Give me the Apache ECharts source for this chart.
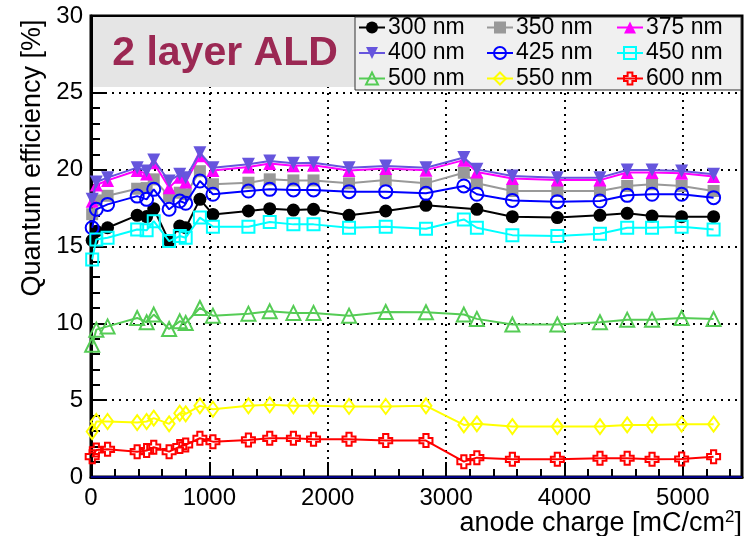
<!DOCTYPE html>
<html>
<head>
<meta charset="utf-8">
<script src="https://cdn.jsdelivr.net/npm/echarts@6/dist/echarts.min.js"></script>
<style>
html,body{margin:0;padding:0;background:#fff;}
#chart{width:745px;height:536px;}
</style>
</head>
<body>
<div id="chart"></div>
<script>
// anode charge [mC/cm2]
const charge = [10, 45, 140, 390, 470, 530, 660, 750, 800, 920, 1030, 1330, 1510, 1710, 1880, 2180, 2490, 2830, 3150, 3260, 3560, 3940, 4300, 4530, 4740, 4990, 5260];
const seriesNames = ['300 nm', '350 nm', '375 nm', '400 nm', '425 nm', '450 nm', '500 nm', '550 nm', '600 nm'];
const qe300 = [15.4, 16.0, 16.22, 17.03, 16.95, 17.46, 15.35, 16.33, 16.22, 18.07, 17.09, 17.31, 17.46, 17.37, 17.42, 17.03, 17.31, 17.68, null, 17.42, 16.94, 16.88, 17.03, 17.16, 16.98, 16.94, 16.94];
const qe350 = [17.1, 18.0, 18.3, 18.76, 18.8, 19.37, 18.28, 18.5, 18.4, 19.9, 19.05, 19.15, 19.37, 19.3, 19.3, 19.11, 19.33, 19.11, 19.8, 19.11, 18.61, 18.61, 18.61, 18.94, 19.05, 18.94, 18.61];
const qe375 = [17.95, 19.0, 19.3, 19.95, 19.72, 20.45, 18.83, 19.5, 19.2, 20.9, 19.95, 20.18, 20.4, 20.25, 20.28, 19.95, 20.08, 19.97, 20.62, 19.85, 19.42, 19.32, 19.32, 19.82, 19.82, 19.76, 19.55];
const qe400 = [18.07, 19.2, 19.48, 20.13, 19.91, 20.63, 19.26, 19.7, 19.48, 21.1, 20.13, 20.35, 20.57, 20.42, 20.45, 20.13, 20.24, 20.13, 20.79, 20.02, 19.59, 19.48, 19.48, 19.98, 19.98, 19.91, 19.7];
const qe425 = [16.22, 17.42, 17.74, 18.28, 18.07, 18.72, 17.42, 17.96, 17.81, 19.26, 18.4, 18.61, 18.72, 18.68, 18.68, 18.57, 18.57, 18.46, 18.94, 18.4, 18.0, 17.92, 17.96, 18.33, 18.4, 18.4, 18.18];
const qe450 = [14.15, 15.46, 15.57, 16.11, 16.05, 16.65, 15.35, 15.68, 15.57, 16.88, 16.29, 16.29, 16.59, 16.44, 16.44, 16.22, 16.29, 16.15, 16.76, 16.22, 15.74, 15.68, 15.83, 16.22, 16.22, 16.29, 16.11];
const qe500 = [8.61, 9.59, 9.8, 10.35, 10.07, 10.57, 9.63, 10.13, 10.02, 11.0, 10.5, 10.63, 10.78, 10.68, 10.68, 10.5, 10.74, 10.72, 10.57, 10.29, 9.92, 9.92, 10.07, 10.24, 10.24, 10.35, 10.29];
const qe550 = [2.96, 3.61, 3.61, 3.54, 3.61, 3.83, 3.46, 4.15, 4.11, 4.63, 4.41, 4.63, 4.7, 4.63, 4.63, 4.59, 4.59, 4.63, 3.39, 3.46, 3.28, 3.28, 3.28, 3.39, 3.39, 3.44, 3.44];
const qe600 = [1.32, 1.76, 1.8, 1.65, 1.72, 1.94, 1.65, 1.98, 2.09, 2.52, 2.3, 2.41, 2.52, 2.52, 2.46, 2.46, 2.37, 2.37, 1.0, 1.26, 1.15, 1.15, 1.22, 1.22, 1.15, 1.17, 1.32];
const xTicks = [0, 1000, 2000, 3000, 4000, 5000];
const yTicks = [0, 5, 10, 15, 20, 25, 30];

const allValues = [qe300, qe350, qe375, qe400, qe425, qe450, qe500, qe550, qe600];
const FONT = '"Liberation Sans", Arial, Helvetica, sans-serif';
const crossPath = 'path://M3,0H7V3H10V7H7V10H3V7H0V3H3Z';

const styles = [
  {color: '#000000', symbol: 'circle', size: 13, filled: true},
  {color: '#999999', symbol: 'rect', size: 12, filled: true},
  {color: '#ff00ff', symbol: 'triangle', size: 13, filled: true},
  {color: '#6655dd', symbol: 'triangle', size: 13, filled: true, rotate: 180},
  {color: '#0000ff', symbol: 'circle', size: 13, filled: false},
  {color: '#00ffff', symbol: 'rect', size: 12, filled: false},
  {color: '#55cc55', symbol: 'triangle', size: 14, filled: false},
  {color: '#ffff00', symbol: 'diamond', size: [11, 15], filled: false},
  {color: '#ff0000', symbol: crossPath, size: 13, filled: false}
];

const series = seriesNames.map((name, i) => {
  const s = styles[i];
  return {
    name: name,
    type: 'line',
    data: charge.map((c, j) => [c, allValues[i][j]]),
    connectNulls: true,
    symbol: s.symbol,
    symbolSize: s.size,
    symbolRotate: s.rotate || 0,
    showAllSymbol: true,
    animation: false,
    lineStyle: {color: s.color, width: 2},
    itemStyle: {
      color: s.filled ? s.color : 'rgba(0,0,0,0)',
      borderColor: s.color,
      borderWidth: s.filled ? 0 : 2
    },
    emphasis: {disabled: true},
    z: 2 + i * 0.01
  };
});
series[0].markLine = {
  silent: true, symbol: 'none', animation: false,
  label: {show: false},
  lineStyle: {color: '#000080', width: 2, type: 'solid'},
  data: [{yAxis: 0}]
};

function legendCol(left, names) {
  return {
    orient: 'vertical', left: left, top: 16, padding: 0,
    data: names, selectedMode: false,
    itemWidth: 26, itemHeight: 15, itemGap: 2.5,
    textStyle: {fontFamily: FONT, fontSize: 23, color: '#000', lineHeight: 23, padding: [0, 0, 0, -2]},
    z: 6
  };
}

const option = {
  animation: false,
  backgroundColor: '#ffffff',
  grid: {left: 91, right: 3, top: 16, bottom: 59, show: true, borderColor: '#000', borderWidth: 3, backgroundColor: 'transparent'},
  legend: [
    legendCol(358, [seriesNames[0], seriesNames[3], seriesNames[6]]),
    legendCol(486, [seriesNames[1], seriesNames[4], seriesNames[7]]),
    legendCol(616, [seriesNames[2], seriesNames[5], seriesNames[8]])
  ],
  xAxis: {
    type: 'value', min: xTicks[0], max: 5500, interval: xTicks[1] - xTicks[0],
    axisLine: {show: true, onZero: false, lineStyle: {color: '#000', width: 3}},
    axisTick: {show: true, inside: true, length: 15, lineStyle: {color: '#000', width: 2}},
    minorTick: {show: true, splitNumber: 5, length: 8, lineStyle: {color: '#000', width: 2}},
    axisLabel: {color: '#000', fontFamily: FONT, fontSize: 24, margin: 9, showMaxLabel: false,
      formatter: v => (xTicks.indexOf(v) >= 0 ? String(v) : '')},
    splitLine: {show: true, lineStyle: {color: '#000', width: 2, type: [2, 5]}}
  },
  yAxis: {
    type: 'value', min: yTicks[0], max: yTicks[yTicks.length - 1], interval: yTicks[1] - yTicks[0],
    axisLine: {show: true, onZero: false, lineStyle: {color: '#000', width: 3}},
    axisTick: {show: true, inside: true, length: 15, lineStyle: {color: '#000', width: 2}},
    minorTick: {show: true, splitNumber: 5, length: 9, lineStyle: {color: '#000', width: 2}},
    axisLabel: {color: '#000', fontFamily: FONT, fontSize: 24, margin: 8},
    splitLine: {show: true, lineStyle: {color: '#000', width: 2, type: [2, 5]}}
  },
  graphic: [
    {type: 'rect', shape: {x: 93, y: 17, width: 262, height: 70}, style: {fill: '#e5e5e5'}, z: 3, silent: true},
    {type: 'text', x: 225, y: 54, z: 5, silent: true,
      style: {text: '2 layer ALD', font: 'bold 41px ' + FONT, fill: '#9b2853', align: 'center', verticalAlign: 'middle'}},
    {type: 'rect', shape: {x: 355, y: 17, width: 386, height: 73}, style: {fill: '#f0f0f0', stroke: '#333', lineWidth: 1}, z: 3, silent: true},
    {type: 'text', x: 33, y: 158, rotation: Math.PI / 2, z: 5, silent: true,
      style: {text: 'Quantum efficiency [%]', font: '27px ' + FONT, fill: '#000', align: 'center', verticalAlign: 'middle'}},
    {type: 'text', x: 742, y: 524, z: 5, silent: true,
      style: {text: 'anode charge [mC/cm{sup|2}]', font: '27px ' + FONT, fill: '#000', align: 'right', verticalAlign: 'middle',
        rich: {sup: {font: '17px ' + FONT, fill: '#000', padding: [0, 0, 14, 0]}}}}
  ],
  series: series
};

const chart = echarts.init(document.getElementById('chart'), null, {renderer: 'canvas'});
chart.setOption(option);
</script>
</body>
</html>
